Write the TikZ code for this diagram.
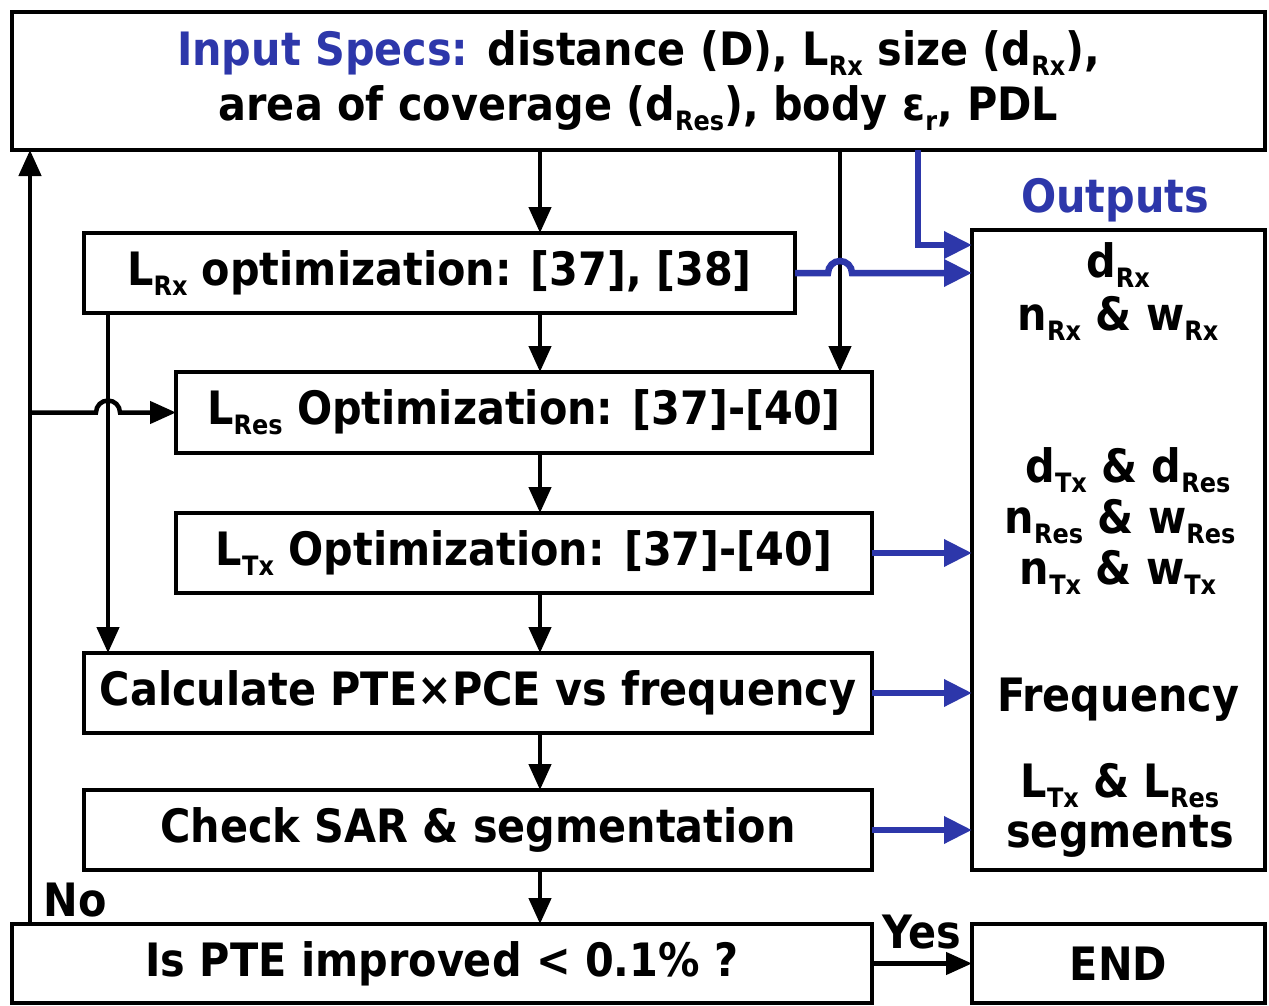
\documentclass[tikz,border=0pt]{standalone}
\usepackage{fontspec}
\setmainfont{DejaVu Sans Condensed}
\usepackage{graphicx}
\usetikzlibrary{arrows.meta,calc}
\definecolor{bl}{RGB}{45,55,170}
\newcommand\fsz{\fontsize{46}{55}\selectfont}
\newcommand\subt[1]{\raisebox{-0.22em}{\scalebox{0.58}{#1}}}
\begin{document}
\begin{tikzpicture}[x=1pt,y=-1pt,
  box/.style={draw, line width=4.5pt, inner sep=0pt, outer sep=0pt, font=\fsz\bfseries, align=center},
  lbl/.style={font=\fsz\bfseries, inner sep=0pt},
  arr/.style={line width=4.5pt, -{Triangle[length=26pt,width=22pt]}},
  barr/.style={line width=6.5pt, draw=bl, -{Triangle[length=28pt,width=26pt]}, color=bl}]
\useasboundingbox (0,0) rectangle (1269,1006);
\fill[white] (0,0) rectangle (1269,1006);
% boxes
\node[box, minimum width=1253pt, minimum height=138pt] (in) at (638.5,81)
  {{\color{bl}Input Specs:} distance (D), L\subt{Rx} size (d\subt{Rx}),\\
   area of coverage (d\subt{Res}), body ε\subt{r}, PDL};
\node[box, minimum width=711pt, minimum height=80pt] (lrx) at (439.5,273) {L\subt{Rx} optimization: [37], [38]};
\node[box, minimum width=696pt, minimum height=81pt] (lres) at (524,412.5) {L\subt{Res} Optimization: [37]-[40]};
\node[box, minimum width=696pt, minimum height=80pt] (ltx) at (524,553) {L\subt{Tx} Optimization: [37]-[40]};
\node[box, minimum width=788pt, minimum height=80pt] (calc) at (478,693) {Calculate PTE×PCE vs frequency};
\node[box, minimum width=788pt, minimum height=80pt] (chk) at (478,830) {Check SAR \& segmentation};
\node[box, minimum width=860pt, minimum height=79pt] (pte) at (442,963.5) {Is PTE improved < 0.1\% ?};
\node[box, minimum width=293pt, minimum height=79pt] (end) at (1118.5,963.5) {END};
\node[box, minimum width=293pt, minimum height=640pt] (out) at (1118.5,550) {};
% outputs text
\node[lbl, text=bl] (ol) at (1115,200) {Outputs};
\node[lbl] (o1) at (1118,265) {d\subt{Rx}};
\node[lbl] (o2) at (1118,318) {n\subt{Rx} \& w\subt{Rx}};
\node[lbl] (o3) at (1128,470) {d\subt{Tx} \& d\subt{Res}};
\node[lbl] (o4) at (1120,522) {n\subt{Res} \& w\subt{Res}};
\node[lbl] (o5) at (1118,572) {n\subt{Tx} \& w\subt{Tx}};
\node[lbl] (o6) at (1118,700) {Frequency};
\node[lbl] (o7) at (1120,786) {L\subt{Tx} \& L\subt{Res}};
\node[lbl] (o8) at (1120,836) {segments};
\node[lbl] (no) at (75,900) {No};
\node[lbl] (yes) at (922,932) {Yes};
% guide coordinates
\coordinate (mx) at (540,0);
\coordinate (rx) at (840,0);
\coordinate (bx) at (918,0);
\coordinate (lx) at (30,0);
\coordinate (l2) at (108,0);
\coordinate (ya) at (0,245);
% main flow
\draw[arr] (in.south -| mx) -- (lrx.north -| mx);
\draw[arr] (lrx.south -| mx) -- (lres.north -| mx);
\draw[arr] (lres.south -| mx) -- (ltx.north -| mx);
\draw[arr] (ltx.south -| mx) -- (calc.north -| mx);
\draw[arr] (calc.south -| mx) -- (chk.north -| mx);
\draw[arr] (chk.south -| mx) -- (pte.north -| mx);
\draw[arr] (in.south -| rx) -- (lres.north -| rx);
\draw[arr] (pte.east) -- (end.west);
% loops
\draw[arr] (pte.north -| lx) -- (in.south -| lx);
\draw[arr] (lx |- lres.west) -- ($(l2 |- lres.west)+(-12,0)$) arc[start angle=180,end angle=360,radius=12] -- (lres.west);
\draw[arr] (lrx.south -| l2) -- (calc.north -| l2);
% outputs
\draw[barr] (in.south -| bx) |- (out.west |- ya);
\draw[barr] (lrx.east) -- ($(rx |- lrx.east)+(-12,0)$) arc[start angle=180,end angle=360,radius=12] -- (out.west |- lrx.east);
\draw[barr] (ltx.east) -- (out.west |- ltx.east);
\draw[barr] (calc.east) -- (out.west |- calc.east);
\draw[barr] (chk.east) -- (out.west |- chk.east);
\end{tikzpicture}
\end{document}
